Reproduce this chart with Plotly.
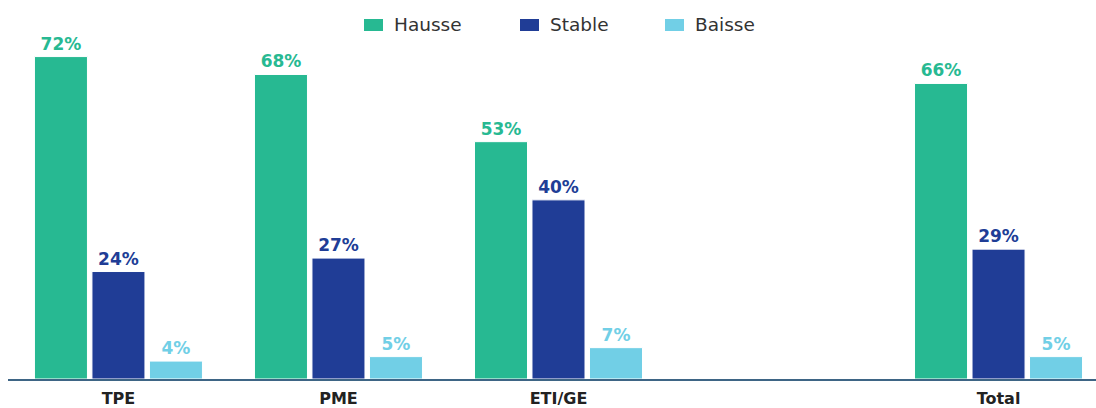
import plotly.graph_objects as go

categories = ["TPE", "PME", "ETI/GE", " ", "Total"]
hausse = [72, 68, 53, None, 66]
stable = [24, 27, 40, None, 29]
baisse = [4, 5, 7, None, 5]

series = [
    ("Hausse", hausse, "#27B992"),
    ("Stable", stable, "#203D96"),
    ("Baisse", baisse, "#71CFE6"),
]

FONT = "DejaVu Sans, sans-serif"

fig = go.Figure()
for name, vals, color in series:
    fig.add_trace(go.Bar(
        name=name,
        x=categories,
        y=vals,
        marker=dict(color=color, line=dict(color="white", width=1)),
        text=[f"<b>{v}%</b>" if v is not None else "" for v in vals],
        textposition="outside",
        textfont=dict(color=color, size=17, family=FONT),
        cliponaxis=False,
        showlegend=False,
    ))

# Legend drawn as swatches + labels above the plot (paper coords)
plot_left, plot_right = 8, 1096
plot_top, plot_bottom = 40, 379
pw = plot_right - plot_left
ph = plot_bottom - plot_top


def px_x(p):
    return (p - plot_left) / pw


def px_y(p):
    return (plot_bottom - p) / ph


legend_items = [("Hausse", "#27B992", 364), ("Stable", "#203D96", 520), ("Baisse", "#71CFE6", 665)]
for label, color, x0 in legend_items:
    fig.add_shape(
        type="rect", xref="paper", yref="paper",
        x0=px_x(x0), x1=px_x(x0 + 19), y0=px_y(31), y1=px_y(19),
        fillcolor=color, line=dict(width=0),
    )
    fig.add_annotation(
        xref="paper", yref="paper",
        x=px_x(x0 + 28), y=px_y(25),
        xanchor="left", yanchor="middle",
        text=label, showarrow=False,
        font=dict(size=18.5, color="#333333", family=FONT),
    )

fig.update_layout(
    width=1096,
    height=408,
    margin=dict(l=plot_left, r=1096 - plot_right, t=plot_top, b=408 - plot_bottom),
    paper_bgcolor="white",
    plot_bgcolor="white",
    barmode="group",
    bargap=0.216,
    bargroupgap=0.078,
    font=dict(family=FONT, color="#333333"),
    showlegend=False,
)

fig.update_xaxes(
    type="category",
    categoryorder="array",
    categoryarray=categories,
    range=[-0.502, 4.443],
    showline=True,
    linecolor="#3E6585",
    linewidth=2,
    showgrid=False,
    ticks="",
    ticklabelstandoff=4,
    tickfont=dict(size=16, color="#222222", family=FONT),
    tickprefix="<b>",
    ticksuffix="</b>",
)
fig.update_yaxes(
    range=[0, 75.7],
    visible=False,
    showgrid=False,
    zeroline=False,
)

fig.write_html("out.html")
